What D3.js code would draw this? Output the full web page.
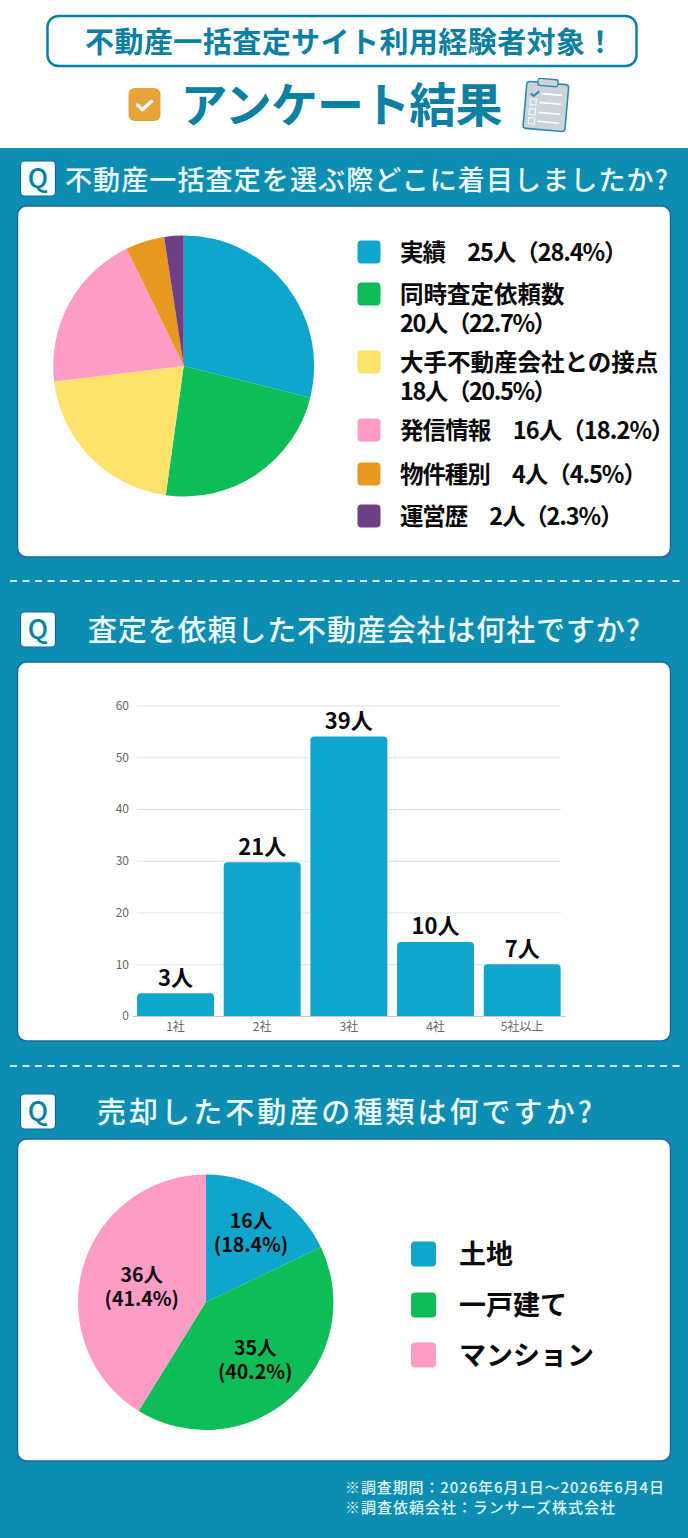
<!DOCTYPE html>
<html><head><meta charset="utf-8"><script src="https://cdn.jsdelivr.net/npm/d3@7"></script>
<style>html,body{margin:0;padding:0;background:#fff}svg{display:block}text{font-family:"Noto Sans CJK JP","Noto Sans",sans-serif}</style></head>
<body><svg id="c" width="688" height="1538"></svg>
<script>
const headerTop = "不動産一括査定サイト利用経験者対象！";
const headerMain = "アンケート結果";
const q1Title = "不動産一括査定を選ぶ際どこに着目しましたか?";
const q2Title = "査定を依頼した不動産会社は何社ですか?";
const q3Title = "売却した不動産の種類は何ですか?";
const q1Shares = [28.9, 23.3, 20.9, 19.7, 4.8, 2.4];
const q1Colors = ["#0fa5cc", "#0fbd58", "#fde36c", "#fd9cc4", "#e6981f", "#6e3f87"];
const q1Legend = [["実績　25人（28.4%）"], ["同時査定依頼数", "20人（22.7%）"], ["大手不動産会社との接点", "18人（20.5%）"], ["発信情報　16人（18.2%）"], ["物件種別　4人（4.5%）"], ["運営歴　2人（2.3%）"]];
const barCats = ["1社", "2社", "3社", "4社", "5社以上"];
const barHeights = [4.4, 29.7, 54.0, 14.3, 10.0];
const barLabels = ["3人", "21人", "39人", "10人", "7人"];
const barTicks = [0, 10, 20, 30, 40, 50, 60];
const q3Shares = [17.9, 40.9, 41.2];
const q3Colors = ["#0fa5cc", "#0fbd58", "#fd9cc4"];
const q3SliceLabels = [["16人", "(18.4%)"], ["35人", "(40.2%)"], ["36人", "(41.4%)"]];
const q3Legend = ["土地", "一戸建て", "マンション"];
const footnotes = ["※調査期間：2026年6月1日～2026年6月4日", "※調査依頼会社：ランサーズ株式会社"];

const svg = d3.select("#c");
const teal = "#0d8db1", dark = "#0b80a2", ink = "#0a0a0a", titleCol = "#ecfafd";
const txt = (p, s, x, y, size, weight, fill, anchor, len) => {
  const t = p.append("text").attr("x", x).attr("y", y).attr("font-size", size).attr("font-weight", weight)
    .attr("fill", fill).attr("text-anchor", anchor || "start").text(s);
  if (len) t.attr("textLength", len).attr("lengthAdjust", "spacing");
  return t;
};
svg.append("rect").attr("width", 688).attr("height", 1538).attr("fill", "#fff");
svg.append("rect").attr("y", 148).attr("width", 688).attr("height", 1390).attr("fill", teal);

// header
svg.append("rect").attr("x", 47.5).attr("y", 16).attr("width", 589).attr("height", 50).attr("rx", 11).attr("fill", "#fff").attr("stroke", dark).attr("stroke-width", 2.5);
txt(svg, headerTop, 85, 53, 29, 700, dark, "start", 529.5);
txt(svg, headerMain, 180.5, 122, 47, 700, dark, "start", 322);
svg.append("rect").attr("x", 128.5).attr("y", 88).attr("width", 32).attr("height", 33).attr("rx", 6).attr("fill", "#e6a33c");
svg.append("path").attr("d", "M137.5 105l5 4.5 9-8").attr("fill", "none").attr("stroke", "#fff").attr("stroke-width", 3.5).attr("stroke-linecap", "round").attr("stroke-linejoin", "round");
const clip = svg.append("g").attr("transform", "rotate(5 546 105)");
clip.append("rect").attr("x", 525).attr("y", 83).attr("width", 42).attr("height", 47).attr("rx", 3).attr("fill", "#cdd3da").attr("stroke", "#2b8dab").attr("stroke-width", 1.6);
clip.append("rect").attr("x", 536).attr("y", 79).attr("width", 20).attr("height", 7).attr("rx", 2).attr("fill", "#cdd3da").attr("stroke", "#2b8dab").attr("stroke-width", 1.4);
[94, 103, 113, 122].forEach((y, i) => {
  clip.append("path").attr("d", `M${i ? 539 : 541} ${y}H561`).attr("stroke", "#fff").attr("stroke-width", 1.6);
  if (i) clip.append("rect").attr("x", 530).attr("y", y - 3).attr("width", 6).attr("height", 6).attr("fill", "none").attr("stroke", "#f4f6f8").attr("stroke-width", 1.2);
});
clip.append("path").attr("d", "M530 95l3 2 5-5").attr("fill", "none").attr("stroke", "#2b8dab").attr("stroke-width", 2);

// dashed separators
[581, 1066].forEach(y => svg.append("line").attr("x1", 10).attr("x2", 682).attr("y1", y).attr("y2", y)
  .attr("stroke", "#cfeef6").attr("stroke-width", 2).attr("stroke-dasharray", "7 5.5"));

// panels
[[206, 557], [662, 1041], [1139, 1461]].forEach(([a, b]) => svg.append("rect").attr("x", 17.5).attr("y", a).attr("width", 653).attr("height", b - a)
  .attr("rx", 9).attr("fill", "#fff").attr("stroke", "#17689b").attr("stroke-width", 1.5));

// question badges and titles
[[161, q1Title, 65, 190, 27, 603], [612, q2Title, 88, 641, 29, 552], [1094, q3Title, 97, 1123, 29, 495]].forEach(([y, s, x, by, size, len]) => {
  svg.append("rect").attr("x", 20.5).attr("y", y).attr("width", 35).attr("height", 35).attr("rx", 4).attr("fill", "#f4fdff").attr("stroke", "#17689b").attr("stroke-width", 1.2);
  txt(svg, "Q", 38, y + 27, 27, 500, dark, "middle");
  txt(svg, s, x, by, size, 500, titleCol, "start", len);
});

// pie 1
const pie = d3.pie().sort(null).value(d => d);
const arc1 = d3.arc().innerRadius(0).outerRadius(130.5);
svg.append("g").attr("transform", "translate(183.7,366)").selectAll("path").data(pie(q1Shares)).join("path")
  .attr("d", arc1).attr("fill", (d, i) => q1Colors[i]);
const q1Lines = [[252], [294, 323], [362, 391], [430], [474], [516]];
q1Legend.forEach((lines, i) => {
  svg.append("rect").attr("x", 357.5).attr("y", q1Lines[i][0] - 11.5).attr("width", 23).attr("height", 23).attr("rx", 4).attr("fill", q1Colors[i]);
  lines.forEach((s, j) => {
    const t = txt(svg, s, 400, q1Lines[i][j] + 8.5, 23.5, 700, ink);
    // the reference sets the Latin digits and brackets slightly tighter
    if (s.includes("%")) t.attr("textLength", t.node().getComputedTextLength() - 13).attr("lengthAdjust", "spacing");
  });
});

// bars
const x = d3.scaleBand().domain(barCats).range([132.2, 565.5]).paddingInner(0.112).paddingOuter(0.056);
const y = d3.scaleLinear().domain([0, 60]).range([1016, 705.5]);
const gy = svg.append("g").attr("transform", "translate(137,0)").call(d3.axisLeft(y).tickValues(barTicks).tickSize(-424).tickPadding(8));
gy.select(".domain").remove();
gy.selectAll("line").attr("stroke", "#dfe1e4");
gy.selectAll("text").attr("font-size", 12).attr("fill", "#666");
const gx = svg.append("g").attr("transform", "translate(0,1016)").call(d3.axisBottom(x).tickSize(0).tickPadding(6));
gx.select(".domain").attr("stroke", "#c9ccd0");
gx.selectAll("text").attr("font-size", 12).attr("fill", "#666");
const barPath = d => {
  const x0 = x(d.c), w = x.bandwidth(), t = y(d.v), b = y(0), r = 4;
  return `M${x0} ${b}V${t + r}Q${x0} ${t} ${x0 + r} ${t}H${x0 + w - r}Q${x0 + w} ${t} ${x0 + w} ${t + r}V${b}Z`;
};
const barData = barCats.map((c, i) => ({ c, v: barHeights[i], l: barLabels[i] }));
svg.append("g").selectAll("path").data(barData).join("path").attr("d", barPath).attr("fill", "#0fa5cc");
barData.forEach(d => txt(svg, d.l, x(d.c) + x.bandwidth() / 2, y(d.v) - 7.5, 22, 700, ink, "middle"));

// pie 2
const g3 = svg.append("g").attr("transform", "translate(205.7,1302.3)");
const arc3 = d3.arc().innerRadius(0).outerRadius(127.7);
const pie3 = pie(q3Shares);
g3.selectAll("path").data(pie3).join("path").attr("d", arc3).attr("fill", (d, i) => q3Colors[i]);
const labelR = [85, 74, 66.5];
pie3.forEach((d, i) => {
  const [cx, cy] = d3.arc().innerRadius(labelR[i]).outerRadius(labelR[i]).centroid(d);
  const t = g3.append("text").attr("font-size", 19.5).attr("font-weight", 700).attr("fill", ink).attr("text-anchor", "middle");
  q3SliceLabels[i].forEach((s, j) => t.append("tspan").attr("x", cx).attr("y", cy + (j ? 22 : -2)).text(s));
});
q3Legend.forEach((s, i) => {
  const cy = [1254, 1305, 1355][i];
  svg.append("rect").attr("x", 411).attr("y", cy - 12.5).attr("width", 25).attr("height", 25).attr("rx", 4).attr("fill", q3Colors[i]);
  txt(svg, s, 459, cy + 10, 27, 700, ink);
});

// footnotes
txt(svg, footnotes[0], 345, 1493, 15, 500, "#dcf4f9", "start", 319);
txt(svg, footnotes[1], 345, 1513, 15, 500, "#dcf4f9", "start", 270);
</script></body></html>
